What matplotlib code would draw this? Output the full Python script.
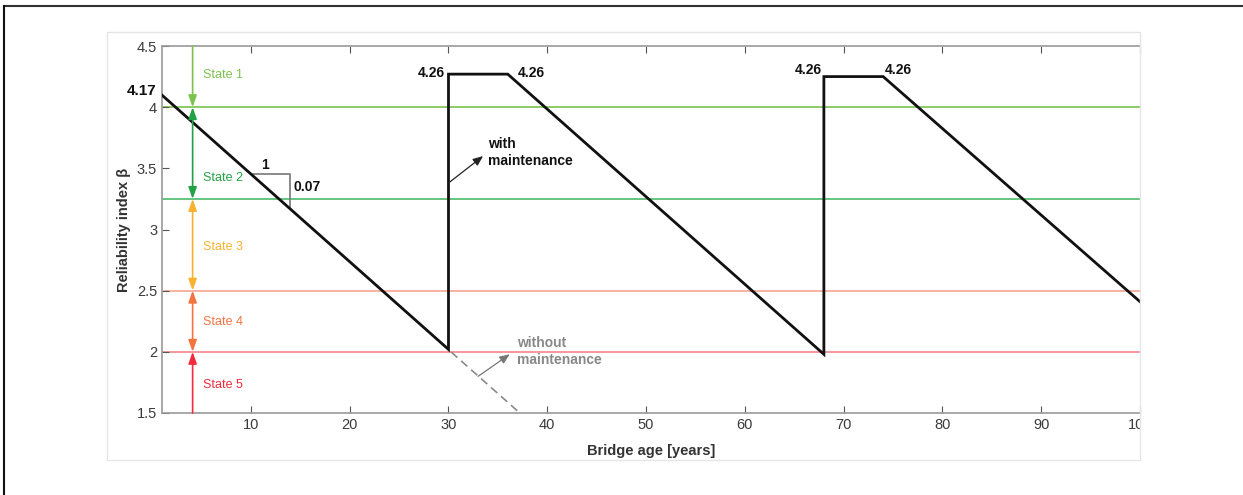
import matplotlib
matplotlib.use("Agg")
import matplotlib.pyplot as plt
from matplotlib.lines import Line2D
from matplotlib.patches import Rectangle
from matplotlib.transforms import Bbox, TransformedBbox

plt.rcParams['font.family'] = ['Liberation Sans', 'DejaVu Sans']

# ---- data ----
years_with = [0, 30, 30, 36, 68, 68, 74, 100]
beta_with = [4.17, 2.02, 4.27, 4.27, 1.98, 4.25, 4.25, 2.41]
years_without = [0, 37.5]
beta_without = [4.17, 1.48]

thresholds = [4.0, 3.25, 2.5, 2.0]
threshold_colors = ['#7cc24e', '#4cbb6a', '#f6a590', '#f3858b']

state_names = ['State 1', 'State 2', 'State 3', 'State 4', 'State 5']
state_bounds = [(4.5, 4.0), (4.0, 3.25), (3.25, 2.5), (2.5, 2.0), (1.5, 2.0)]
state_styles = ['-|>', '<|-|>', '<|-|>', '<|-|>', '-|>']
state_colors = ['#7cc24e', '#22a244', '#f9b22f', '#f4733f', '#f42a3c']
state_label_y = [4.26, 3.42, 2.86, 2.24, 1.73]

x_ticks = [10, 20, 30, 40, 50, 60, 70, 80, 90, 100]
y_ticks = [1.5, 2, 2.5, 3, 3.5, 4, 4.5]
y_ticklabels = ['1.5', '2', '2.5', '3', '3.5', '4', '4.5']

W, H = 1243, 495
fig = plt.figure(figsize=(W / 100, H / 100), dpi=100)
fig.patch.set_facecolor('white')

# outer document frame (top and left)
fig.add_artist(Line2D([4 / W, 1], [1 - 6 / H, 1 - 6 / H], color='#333333', lw=1.5, transform=fig.transFigure))
fig.add_artist(Line2D([4 / W, 4 / W], [0, 1 - 6 / H], color='#111111', lw=1.5, transform=fig.transFigure))
# inner image border
fig.add_artist(Rectangle((107 / W, 1 - 460 / H), (1140 - 107) / W, (460 - 32) / H,
                         fill=False, ec='#e6e6e6', lw=1.0, transform=fig.transFigure))

ax = fig.add_axes([162 / W, 1 - 413 / H, (1140 - 162) / W, (413 - 46) / H])
ax.set_xlim(1, 100)
ax.set_ylim(1.5, 4.5)

grey = '#9a9a9a'
for s in ['left', 'bottom', 'top']:
    ax.spines[s].set_color(grey)
    ax.spines[s].set_linewidth(1.2)
ax.spines['right'].set_visible(False)
ax.tick_params(direction='in', length=5, color='#555555', width=0.8,
               labelsize=10.5, labelcolor='#3a3a3a', top=True, right=False)
ax.set_xticks(x_ticks)
ax.set_yticks(y_ticks)
ax.set_yticklabels(y_ticklabels)

# threshold lines
for th, c in zip(thresholds, threshold_colors):
    ax.axhline(th, color=c, lw=1.2, zorder=1)

# without maintenance (dashed)
ax.plot(years_without, beta_without, ls=(0, (5, 3)), color='#8a8a8a', lw=1.2, zorder=2)
# with maintenance
ax.plot(years_with, beta_with, color='#111111', lw=2.0, zorder=3, solid_joinstyle='miter')

# state arrows
xa = 4.1
for name, (y0, y1), st, c, ly in zip(state_names, state_bounds, state_styles, state_colors, state_label_y):
    ax.annotate('', xy=(xa, y1), xytext=(xa, y0),
                arrowprops=dict(arrowstyle=st + ',head_length=0.7,head_width=0.25',
                                color=c, lw=1.2, shrinkA=0, shrinkB=0), zorder=4)
    ax.text(5.2, ly, name, color=c, fontsize=9, va='center', ha='left')

# slope triangle
ax.plot([10.0, 14.0, 14.0], [3.45, 3.45, 3.17], color='#777777', lw=1.2, zorder=2)
ax.text(11.4, 3.53, '1', fontsize=10, fontweight='bold', ha='center', va='center', color='#111111')
ax.text(14.3, 3.35, '0.07', fontsize=10, fontweight='bold', ha='left', va='center', color='#111111')

# value labels
ax.text(0.4, 4.13, '4.17', fontsize=11, fontweight='bold', ha='right', va='center', color='#111111', clip_on=False)
ax.text(29.6, 4.28, '4.26', fontsize=10, fontweight='bold', ha='right', va='center', color='#111111')
ax.text(37.0, 4.28, '4.26', fontsize=10, fontweight='bold', ha='left', va='center', color='#111111')
ax.text(67.8, 4.30, '4.26', fontsize=10, fontweight='bold', ha='right', va='center', color='#111111')
ax.text(74.2, 4.30, '4.26', fontsize=10, fontweight='bold', ha='left', va='center', color='#111111')

# with / without maintenance annotations
ax.annotate('', xy=(33.5, 3.6), xytext=(30.0, 3.38),
            arrowprops=dict(arrowstyle='-|>,head_length=0.6,head_width=0.25', color='#222222', lw=0.9,
                            shrinkA=0, shrinkB=0))
ax.text(34.0, 3.63, 'with\nmaintenance', fontsize=10, fontweight='bold', ha='left', va='center',
        color='#111111', linespacing=1.3)
ax.annotate('', xy=(36.2, 1.98), xytext=(33.0, 1.80),
            arrowprops=dict(arrowstyle='-|>,head_length=0.6,head_width=0.25', color='#777777', lw=0.9,
                            shrinkA=0, shrinkB=0))
ax.text(36.9, 2.0, 'without\nmaintenance', fontsize=10, fontweight='bold', ha='left', va='center',
        color='#888888', linespacing=1.3)

# axis labels
ax.set_xlabel('Bridge age [years]', fontsize=10.5, fontweight='bold', color='#333333', labelpad=9)
ax.set_ylabel('Reliability index β', fontsize=10.5, fontweight='bold', color='#333333', labelpad=4)

# the source image is cropped at its right edge, cutting the "100" label
clip = TransformedBbox(Bbox([[0, 0], [1140 / W, 1]]), fig.transFigure)
for tk in ax.xaxis.get_major_ticks():
    tk.label1.set_clip_on(True)
    tk.label1.set_clip_box(clip)

fig.savefig('out.png', dpi=100)
